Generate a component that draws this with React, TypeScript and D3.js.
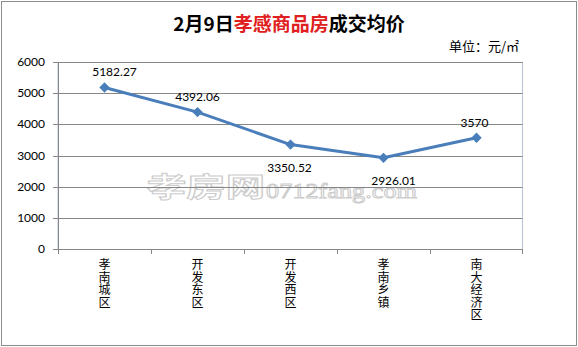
import React from "react";
import * as d3 from "d3";

const categories = ["孝南城区", "开发东区", "开发西区", "孝南乡镇", "南大经济区"];
const values = [5182.27, 4392.06, 3350.52, 2926.01, 3570];
const yTicks = [0, 1000, 2000, 3000, 4000, 5000, 6000];
const labelSide = ["above", "above", "below", "below", "above"];
const labelDx = [10, 0, -1, 10, -2];

const W = 578;
const H = 347;
const left = 58;
const right = 523;
const top = 62;
const bottom = 249;

const NUM_FONT = "Lato, 'Open Sans', 'Liberation Sans', sans-serif";
const CJK_FONT = "'Noto Sans CJK SC', sans-serif";

export default function App() {
  const x = d3.scaleBand<string>().domain(categories).range([left, right]);
  const y = d3.scaleLinear().domain([0, 6000]).range([bottom, top]);
  const cx = (c: string) => (x(c) as number) + x.bandwidth() / 2;
  const line = d3
    .line<number>()
    .x((_, i) => cx(categories[i]))
    .y((d) => y(d));
  const diamond = d3.symbol().type(d3.symbolSquare).size(40)() as string;

  return (
    <svg
      width={W}
      height={H}
      style={{ position: "absolute", left: 0, top: 0, background: "#fff" }}
    >
      <rect x={1.5} y={1.5} width={W - 3} height={H - 3} fill="#fff" stroke="#8c8c8c" />
      {/* title */}
      <text x={289} y={31} textAnchor="middle" fontFamily={CJK_FONT} fontSize={19} fontWeight="bold">
        <tspan fill="#000">2月9日</tspan>
        <tspan fill="#e02020">孝感商品房</tspan>
        <tspan fill="#000">成交均价</tspan>
      </text>
      <text x={449} y={51} fontFamily={CJK_FONT} fontSize={13} fill="#000">
        单位：元/㎡
      </text>

      {/* plot area border */}
      <rect x={left} y={top + 0.5} width={right - left - 0.5} height={bottom - top} fill="none" stroke="#b8c3d3" />

      {/* watermark */}
      <g fill="#fff" stroke="#cccccc" strokeWidth={1}>
        <text x={147} y={197} fontFamily={CJK_FONT} fontSize={27} fontWeight="bold" textLength={118} lengthAdjust="spacingAndGlyphs">
          孝房网
        </text>
        <text x={266} y={198} fontFamily="'Liberation Serif', 'DejaVu Serif', serif" fontSize={22} textLength={151} lengthAdjust="spacingAndGlyphs">
          0712fang.com
        </text>
      </g>

      {/* gridlines */}
      {yTicks.slice(1).map((t) => (
        <line key={t} x1={left} x2={right - 0.5} y1={Math.round(y(t)) + 0.5} y2={Math.round(y(t)) + 0.5} stroke="#878787" />
      ))}
      {/* axes */}
      <line x1={left + 0.5} x2={left + 0.5} y1={top} y2={bottom + 0.5} stroke="#878787" />
      <line x1={left} x2={right} y1={bottom + 0.5} y2={bottom + 0.5} stroke="#878787" />
      {yTicks.map((t) => (
        <g key={t}>
          <line x1={left - 5} x2={left} y1={Math.round(y(t)) + 0.5} y2={Math.round(y(t)) + 0.5} stroke="#878787" />
          <text x={45} y={y(t) + 4} textAnchor="end" fontFamily={NUM_FONT} fontSize={12} fill="#000">
            {t}
          </text>
        </g>
      ))}
      {categories.map((c, i) => (
        <line key={"t" + i} x1={Math.round(x(c) as number) + 0.5} x2={Math.round(x(c) as number) + 0.5} y1={bottom} y2={bottom + 5} stroke="#878787" />
      ))}
      <line x1={right - 0.5} x2={right - 0.5} y1={bottom} y2={bottom + 5} stroke="#878787" />

      {/* category labels, stacked vertically */}
      {categories.map((c) => (
        <text key={c} textAnchor="middle" fontFamily={CJK_FONT} fontSize={12} fill="#000">
          {Array.from(c).map((ch, j) => (
            <tspan key={j} x={cx(c)} y={269 + j * 12.6}>
              {ch}
            </tspan>
          ))}
        </text>
      ))}

      {/* line */}
      <path d={line(values) as string} fill="none" stroke="#4a7ebb" strokeWidth={3} strokeLinejoin="round" />
      {values.map((v, i) => (
        <path key={i} d={diamond} transform={`translate(${cx(categories[i])},${y(v)}) rotate(45)`} fill="#4a7ebb" stroke="#4a7ebb" />
      ))}
      {values.map((v, i) => (
        <text
          key={"l" + i}
          x={cx(categories[i]) + labelDx[i]}
          y={labelSide[i] === "above" ? y(v) - 11 : y(v) + 27}
          textAnchor="middle"
          fontFamily={NUM_FONT}
          fontSize={12}
          fill="#000"
        >
          {String(v)}
        </text>
      ))}
    </svg>
  );
}
